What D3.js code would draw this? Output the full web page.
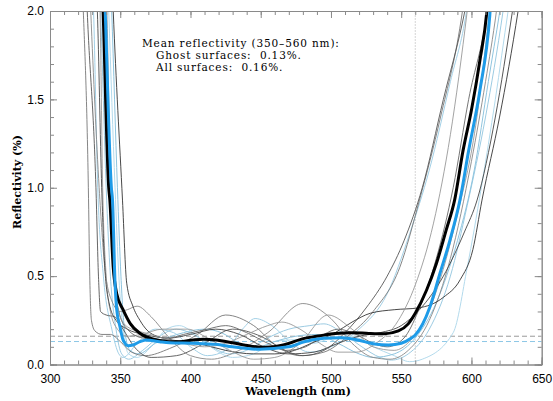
<!DOCTYPE html>
<html><head><meta charset="utf-8">
<script src="https://cdn.jsdelivr.net/npm/d3@7"></script>
<style>html,body{margin:0;padding:0;background:#fff;}svg{display:block;}</style>
</head><body>
<svg id="chart" width="553" height="401"></svg>
<script>
// ---- data (wavelength nm, reflectivity %) ----
const xTicks = [300, 350, 400, 450, 500, 550, 600, 650];
const yTicks = [0.0, 0.5, 1.0, 1.5, 2.0];
const yTickLabels = ["0.0", "0.5", "1.0", "1.5", "2.0"];
const meanGhost = 0.13;
const meanAll = 0.16;
const bandEdge = 560;
const annotation = ["Mean reflectivity (350\u2013560 nm):", "Ghost surfaces:  0.13%.", "All surfaces:  0.16%."];

const grayCurves = [
  [[322,2.3],[323.7,2.0],[327.3,1.0],[328.3,0.5],[329.5,0.25],[332,0.19],[337,0.17],[343,0.17],[350,0.13],[358,0.07],[368,0.05],[385,0.09],[405,0.17],[425,0.28],[445,0.22],[462,0.1],[478,0.05],[495,0.07],[512,0.16],[530,0.3],[549,0.55],[563,0.93],[578,1.4],[593.6,2.0],[597,2.2]],
  [[325,2.3],[326.5,2.0],[332.7,1.0],[334.5,0.5],[336,0.3],[340,0.28],[346,0.27],[352,0.2],[360,0.1],[372,0.04],[390,0.05],[410,0.12],[430,0.2],[450,0.16],[470,0.07],[480,0.05],[495,0.08],[510,0.18],[525,0.32],[540,0.5],[552,0.7],[565,1.0],[580,1.5],[595.3,2.0],[600,2.2]],
  [[327.5,2.3],[329,2.0],[335,1.0],[339,0.55],[344,0.36],[350,0.3],[355,0.31],[362,0.33],[372,0.27],[385,0.15],[400,0.05],[415,0.03],[432,0.07],[455,0.18],[480,0.345],[500,0.26],[515,0.12],[530,0.04],[542,0.03],[555,0.08],[570,0.25],[585,0.6],[600,1.15],[610,1.6],[617.8,2.0],[621,2.2]],
  [[343.5,2.3],[345,2.0],[351.6,0.93],[354.6,0.46],[359,0.33],[364,0.25],[369,0.195],[380,0.15],[395,0.13],[410,0.11],[425,0.08],[445,0.06],[460,0.06],[474,0.08],[486,0.12],[503,0.18],[515,0.24],[528,0.29],[545,0.31],[562,0.32],[580,0.38],[592,0.48],[601,0.65],[607.5,0.93],[620,1.4],[633.2,2.0],[637,2.2]],
  [[334,2.3],[335.6,2.0],[337.5,1.0],[340,0.5],[343,0.3],[348,0.2],[355,0.16],[365,0.17],[380,0.2],[398,0.2],[412,0.15],[428,0.08],[445,0.03],[460,0.04],[478,0.12],[498,0.28],[515,0.2],[530,0.1],[545,0.08],[558,0.15],[572,0.35],[590,0.85],[603,1.35],[613,2.0],[616,2.2]],
  [[332,2.3],[333.7,2.0],[336.8,1.0],[339,0.55],[342,0.35],[347,0.25],[355,0.2],[367,0.17],[385,0.15],[400,0.17],[418,0.2],[435,0.17],[452,0.1],[470,0.06],[488,0.07],[505,0.12],[520,0.16],[535,0.18],[550,0.22],[563,0.31],[580,0.5],[595,0.75],[604,0.93],[617,1.4],[629.2,2.0],[633,2.2]],
  [[337,2.3],[338.5,2.0],[343,1.0],[345.5,0.5],[349,0.3],[355,0.2],[366,0.15],[380,0.14],[395,0.17],[412,0.2],[425,0.22],[440,0.18],[455,0.12],[468,0.08],[482,0.1],[495,0.17],[505,0.2],[518,0.17],[530,0.12],[540,0.1],[552,0.15],[562,0.3],[575,0.6],[587,1.0],[598,1.5],[611.5,2.0],[615,2.2]],
  [[339,2.3],[340.5,2.0],[343,1.0],[345.5,0.5],[351,0.25],[358,0.2],[367,0.18],[380,0.15],[395,0.12],[410,0.1],[425,0.12],[440,0.17],[455,0.22],[465,0.24],[478,0.2],[492,0.12],[505,0.07],[518,0.07],[532,0.12],[548,0.25],[560,0.45],[573,0.8],[585,1.3],[597,2.0],[600,2.2]]
];
const grayColors = ["#777", "#555", "#888", "#333", "#999", "#444", "#666", "#999"];

const blueCurves = [
  [[329.5,2.3],[331,2.0],[334,1.0],[338,0.5],[344,0.2],[349,0.06],[352,0.04],[362,0.12],[375,0.2],[388,0.18],[400,0.1],[412,0.05],[425,0.08],[437,0.2],[446,0.26],[458,0.22],[472,0.12],[485,0.07],[500,0.1],[520,0.2],[540,0.4],[556,0.74],[570,1.1],[585,1.6],[596.5,2.0],[600,2.2]],
  [[334.5,2.3],[336,2.0],[340,1.0],[343,0.5],[347,0.2],[351,0.06],[356,0.03],[366,0.08],[378,0.16],[390,0.2],[402,0.17],[415,0.1],[428,0.06],[440,0.08],[455,0.15],[470,0.2],[485,0.22],[495,0.23],[508,0.18],[522,0.1],[535,0.04],[543,0.025],[555,0.06],[570,0.2],[585,0.5],[597,0.9],[610,1.4],[622.5,2.0],[626,2.2]],
  [[340.5,2.3],[341.8,2.0],[346.3,1.0],[349,0.5],[352,0.2],[356,0.06],[362,0.04],[372,0.1],[383,0.2],[392,0.22],[405,0.16],[418,0.08],[430,0.04],[445,0.06],[460,0.13],[475,0.14],[488,0.12],[500,0.15],[515,0.16],[530,0.1],[545,0.05],[556,0.016],[565,0.03],[587,0.18],[597,0.55],[607,1.0],[617,1.5],[626.1,2.0],[630,2.2]],
  [[342.5,2.3],[343.9,2.0],[348,1.0],[350.5,0.5],[353,0.2],[357,0.08],[363,0.06],[375,0.12],[395,0.18],[410,0.2],[422,0.18],[435,0.12],[448,0.1],[460,0.13],[475,0.16],[490,0.17],[505,0.12],[520,0.06],[530,0.04],[545,0.06],[560,0.15],[575,0.35],[590,0.7],[602,1.1],[612,1.6],[620.2,2.0],[624,2.2]]
];
const blueColors = ["#a3d0e6", "#9ccbe2", "#b3daec", "#8ec4de"];

const allMean = [[336.5,2.3],[337.8,2.0],[341.8,1.0],[342.6,0.93],[345,0.55],[347.5,0.4],[352,0.31],[357,0.233],[364,0.177],[376,0.139],[385,0.129],[392,0.129],[402,0.139],[409,0.143],[418,0.139],[430,0.123],[442,0.105],[454,0.097],[466,0.11],[481,0.148],[491,0.161],[503,0.176],[515,0.18],[527,0.176],[538,0.174],[548,0.19],[555,0.23],[560,0.29],[568,0.42],[575,0.57],[582,0.76],[588,0.93],[594,1.21],[600,1.44],[606,1.72],[611,2.0],[613,2.2]];
const ghostMean = [[338,2.3],[339.3,2.0],[343.7,1.0],[344.5,0.93],[346.3,0.46],[347.5,0.31],[349.8,0.214],[352,0.139],[355.7,0.106],[359,0.11],[364,0.129],[368.8,0.139],[378,0.129],[385,0.123],[402,0.12],[418,0.114],[430,0.1],[449,0.086],[470,0.1],[481,0.129],[495,0.148],[507,0.152],[519,0.139],[531,0.116],[541,0.11],[550,0.12],[557,0.148],[560,0.167],[570.5,0.327],[577.6,0.516],[584.7,0.704],[591.8,0.93],[598,1.21],[606,1.55],[613,1.97],[615,2.2]];

// ---- layout ----
const svg = d3.select("#chart");
const L = 50, R = 541.7, T = 11, B = 364.5;
const x = d3.scaleLinear().domain([300, 650]).range([L, R]);
const y = d3.scaleLinear().domain([0, 2]).range([B, T]);
const axisColor = "#8a8a8a";

svg.append("defs").append("clipPath").attr("id", "clip")
  .append("rect").attr("x", L).attr("y", T).attr("width", R - L).attr("height", B - T);

const plot = svg.append("g").attr("clip-path", "url(#clip)");

// reference lines
plot.append("line").attr("x1", x(300)).attr("x2", x(650)).attr("y1", y(meanAll)).attr("y2", y(meanAll))
  .attr("stroke", "#999").attr("stroke-width", 1).attr("stroke-dasharray", "5,3");
plot.append("line").attr("x1", x(300)).attr("x2", x(650)).attr("y1", y(meanGhost)).attr("y2", y(meanGhost))
  .attr("stroke", "#8ec8e6").attr("stroke-width", 1).attr("stroke-dasharray", "5,3");
plot.append("line").attr("x1", x(bandEdge)).attr("x2", x(bandEdge)).attr("y1", y(0)).attr("y2", y(2))
  .attr("stroke", "#aaa").attr("stroke-width", 1).attr("stroke-dasharray", "1,2");

const line = d3.line().x(d => x(d[0])).y(d => y(d[1])).curve(d3.curveMonotoneX);

blueCurves.forEach((c, i) => plot.append("path").attr("d", line(c)).attr("fill", "none")
  .attr("stroke", blueColors[i]).attr("stroke-width", 1));
grayCurves.forEach((c, i) => plot.append("path").attr("d", line(c)).attr("fill", "none")
  .attr("stroke", grayColors[i]).attr("stroke-width", 0.9));

plot.append("path").attr("d", line(allMean)).attr("fill", "none").attr("stroke", "#000").attr("stroke-width", 3);
plot.append("path").attr("d", line(ghostMean)).attr("fill", "none").attr("stroke", "#1e9be8").attr("stroke-width", 3);

// axes (ticks inward on all four sides)
const xMinor = d3.range(300, 651, 10);
const yMinor = d3.range(0, 2.001, 0.1);
function addAxis(axis, tr) {
  const g = svg.append("g").attr("transform", tr).call(axis);
  g.selectAll("path, line").attr("stroke", axisColor);
  return g;
}
addAxis(d3.axisBottom(x).tickValues(xMinor).tickSize(-4).tickFormat(""), `translate(0,${B})`);
addAxis(d3.axisTop(x).tickValues(xMinor).tickSize(-4).tickFormat(""), `translate(0,${T})`);
addAxis(d3.axisLeft(y).tickValues(yMinor).tickSize(-4).tickFormat(""), `translate(${L},0)`);
addAxis(d3.axisRight(y).tickValues(yMinor).tickSize(-4).tickFormat(""), `translate(${R},0)`);
const xb = addAxis(d3.axisBottom(x).tickValues(xTicks).tickSize(-7).tickPadding(9.5).tickFormat(d3.format("d")), `translate(0,${B})`);
addAxis(d3.axisTop(x).tickValues(xTicks).tickSize(-7).tickFormat(""), `translate(0,${T})`);
const yl = addAxis(d3.axisLeft(y).tickValues(yTicks).tickSize(-7).tickPadding(6).tickFormat((d, i) => yTickLabels[i]), `translate(${L},0)`);
addAxis(d3.axisRight(y).tickValues(yTicks).tickSize(-7).tickFormat(""), `translate(${R},0)`);
[xb, yl].forEach(g => g.selectAll("text").attr("fill", "#000").style("font-family", "'Liberation Sans', Arial, sans-serif").style("font-size", "12px"));
svg.selectAll(".domain").attr("stroke", axisColor);

// titles
svg.append("text").attr("x", 298).attr("y", 395).attr("text-anchor", "middle")
  .style("font-family", "'DejaVu Serif', serif").style("font-size", "11px")
  .style("font-weight", "bold").text("Wavelength (nm)");
svg.append("text").attr("transform", `translate(21,182) rotate(-90)`).attr("text-anchor", "middle")
  .style("font-family", "'DejaVu Serif', serif").style("font-size", "11px")
  .style("font-weight", "bold").text("Reflectivity (%)");

// annotation
const ann = svg.append("g").style("font-family", "'DejaVu Serif', serif").style("font-size", "10.5px")
  .style("letter-spacing", "0.85px").attr("fill", "#000");
ann.append("text").attr("x", 142).attr("y", 47).text(annotation[0]);
ann.append("text").attr("x", 156).attr("y", 59).attr("xml:space", "preserve").style("white-space", "pre").text(annotation[1]);
ann.append("text").attr("x", 156).attr("y", 71).attr("xml:space", "preserve").style("white-space", "pre").text(annotation[2]);
</script>
</body></html>
